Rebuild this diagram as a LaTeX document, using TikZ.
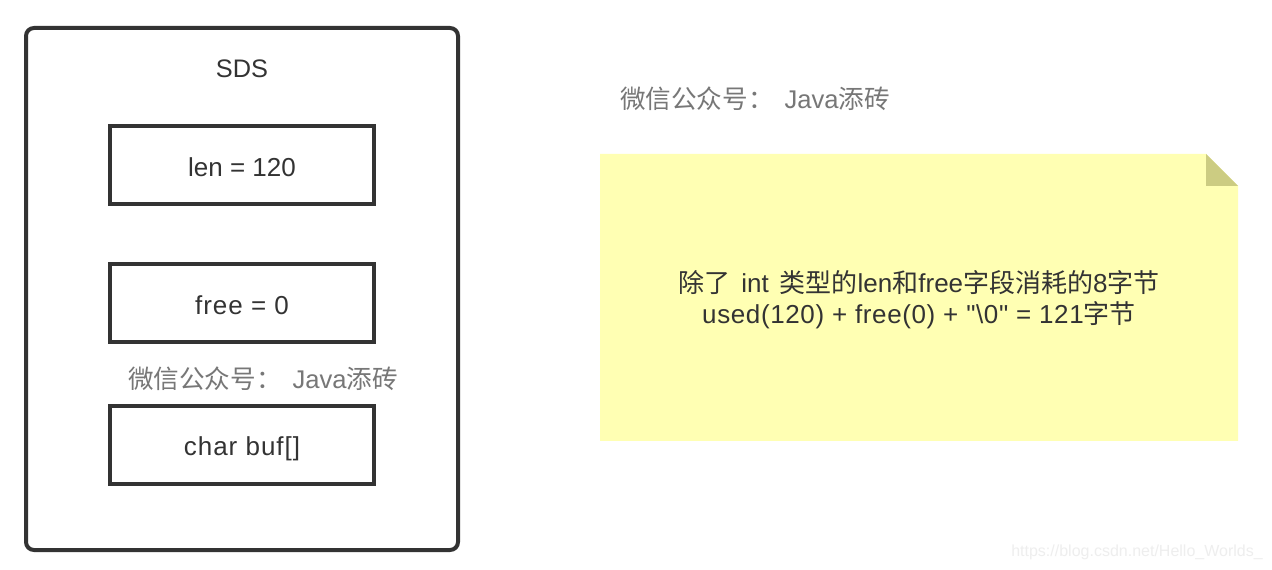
\documentclass[tikz,border=0pt]{standalone}
\usepackage{fontspec}
\setmainfont{Liberation Sans}
\newfontfamily\cjk{Noto Sans CJK SC}
\newfontfamily\widesans[LetterSpace=3.8]{Liberation Sans}
\newfontfamily\midsans[LetterSpace=2.4]{Liberation Sans}
\definecolor{ink}{HTML}{333333}
\definecolor{graytxt}{HTML}{777777}
\definecolor{notefill}{HTML}{FFFFB3}
\definecolor{foldfill}{HTML}{CCCC82}
\definecolor{wm}{HTML}{EEEEEE}
\newcommand{\lowerby}[2]{\raisebox{-#1}[\height][\depth]{#2}}
\tikzset{
  px/.style={x=0.75pt,y=-0.75pt},
  boxstyle/.style={draw=ink,line width=3pt,fill=white,minimum width=198pt,minimum height=58.5pt,inner sep=0pt,text=ink,font=\fontsize{19.5}{23}\selectfont},
  outerstyle/.style={draw=ink,line width=3pt,rounded corners=6pt,fill=white,minimum width=324pt,minimum height=391.5pt,inner sep=0pt},
  lab/.style={inner sep=0pt,text=ink,font=\fontsize{19}{23}\selectfont},
  graylab/.style={inner sep=0pt,text=graytxt,font=\fontsize{19.2}{23}\selectfont},
  notetxt/.style={inner sep=0pt,text=ink,align=center,font=\fontsize{19.5}{23.5}\selectfont},
  wmark/.style={inner sep=0pt,text=wm,font=\fontsize{12}{14}\selectfont}
}
\begin{document}
\begin{tikzpicture}[px]
\useasboundingbox (0,0) rectangle (1272,570);
\fill[white] (0,0) rectangle (1272,570);
\node[outerstyle] (outer) at (242,289) {};
\node[lab] (sds) at (242,69) {SDS};
\node[boxstyle] (len) at (242,165) {\lowerby{1.5pt}{len = 120}};
\node[boxstyle] (free) at (242,303) {\lowerby{1.5pt}{\widesans free = 0}};
\node[boxstyle] (buf) at (242,445) {\lowerby{2.5pt}{\widesans char buf[]}};
\node[graylab] (wm1) at (263,379) {{\cjk 微信公众号：}\hspace{0.42em}Java{\cjk 添砖}};
\node[graylab] (wm2) at (755,99) {{\cjk 微信公众号：}\hspace{0.42em}Java{\cjk 添砖}};
\fill[notefill] (600,154) -- (1206,154) -- (1238,186) -- (1238,441) -- (600,441) -- cycle;
\fill[foldfill] (1206,154) -- (1238,186) -- (1206,186) -- cycle;
\node[notetxt] (note) at (919,300) {{\cjk 除了}\hspace{0.42em}int\hspace{0.42em}{\cjk 类型的}len{\cjk 和}free{\cjk 字段消耗的}8{\cjk 字节}\\{\midsans used(120) + free(0) + \symbol{34}\textbackslash 0\symbol{34} = 121}{\cjk 字节}};
\node[wmark] (csdn) at (1137,552) {https://blog.csdn.net/Hello\_Worlds\_};
\end{tikzpicture}
\end{document}
